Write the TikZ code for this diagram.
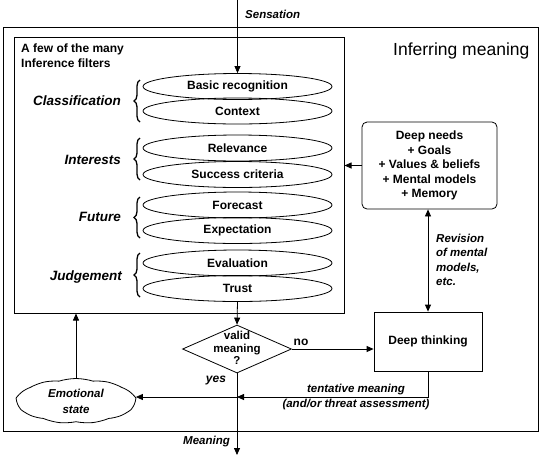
\documentclass[tikz,border=0pt]{standalone}
\usepackage{fontspec}
\setmainfont{Liberation Sans}
\usetikzlibrary{shapes.geometric,shapes.symbols,decorations.pathreplacing,arrows.meta}
\begin{document}
\begin{tikzpicture}[x=1pt,y=-1pt,
  txt/.style={font=\fontsize{12}{14.5}\selectfont\bfseries, inner sep=0pt, align=center},
  itx/.style={font=\fontsize{11.5}{14.5}\selectfont\bfseries\itshape, inner sep=0pt},
  grp/.style={font=\fontsize{13.5}{16}\selectfont\bfseries\itshape, inner sep=0pt, anchor=east},
  filt/.style={ellipse, draw, line width=0.8pt, minimum width=189pt, minimum height=26pt, inner sep=0pt, txt},
  frame/.style={draw, line width=1pt, inner sep=0pt},
  arr/.style={line width=0.8pt, -{Triangle[length=7pt,width=6pt]}},
  darr/.style={line width=0.8pt, {Triangle[length=7pt,width=6pt]}-{Triangle[length=7pt,width=6pt]}},
  brc/.style={decorate, decoration={brace, amplitude=6pt}, line width=1.3pt},
]
\useasboundingbox (0,0) rectangle (540,456);

% frames
\node[frame, minimum width=535pt, minimum height=404pt] (outer) at (270.5,229) {};
\node[frame, minimum width=330pt, minimum height=276pt] (inner) at (179,175) {};
\node[font=\fontsize{17.5}{19}\selectfont, inner sep=0pt, anchor=base west] (title) at (393,55) {Inferring meaning};
\node[txt, anchor=base west] (hdA) at (21,52) {A few of the many};
\node[txt, anchor=base west] (hdB) at (21,67) {Inference filters};

% filters
\node[filt] (f1) at (237.5,86.5) {Basic recognition};
\node[filt] (f2) at (237.5,111) {Context};
\node[filt] (f3) at (237.5,148) {Relevance};
\node[filt] (f4) at (237.5,174.5) {Success criteria};
\node[filt] (f5) at (237.5,205) {Forecast};
\node[filt] (f6) at (237.5,230.5) {Expectation};
\node[filt] (f7) at (237.5,263) {Evaluation};
\node[filt] (f8) at (237.5,288.5) {Trust};

% braces and group labels
\draw[brc] (140,122) -- (140,80);
\draw[brc] (140,180) -- (140,138);
\draw[brc] (140,238) -- (140,197);
\draw[brc] (140,297) -- (140,253);
\node[grp] (g1) at (121,101) {Classification};
\node[grp] (g2) at (121,160) {Interests};
\node[grp] (g3) at (121,217) {Future};
\node[grp] (g4) at (122,277) {Judgement};

% sensation input
\coordinate (in) at (237.5,0);
\node[itx, anchor=base west] (sens) at (245,18) {Sensation};
\draw[arr] (in) -- (f1.north);

% decision
\node[diamond, draw, line width=0.8pt, minimum width=109pt, minimum height=48pt, inner sep=0pt] (dia) at (237,349) {};
\node[txt, font=\fontsize{11.5}{12.5}\selectfont\bfseries] (diat) at (237,348) {valid\\meaning\\?};
\draw[arr] (f8.south) -- (dia.north);

% deep needs and deep thinking
\node[draw, line width=0.8pt, rounded corners=5pt, minimum width=135pt, minimum height=87pt, txt] (dn) at (429.5,165.5)
  {Deep needs\\+ Goals\\+ Values \& beliefs\\+ Mental models\\+ Memory};
\node[draw, line width=0.8pt, minimum width=108pt, minimum height=59pt, txt] (dt) at (428,341.5) {Deep thinking};
\draw[arr] (dn.west) -- (dn.west -| inner.east);
\draw[darr] (dn.south -| dt.north) -- (dt.north);
\node[itx, align=left, anchor=west] (rev) at (436,260) {Revision\\of mental\\models,\\etc.};

\draw[arr] (dia.east) -- (dia.east -| dt.west);
\node[txt] (no) at (301,342) {no};

% output
\coordinate (j) at (237,397);
\coordinate (out) at (237,455);
\draw[arr] (dia.south) -- (out);
\node[txt] (yes) at (216,381) {\itshape yes};
\node[itx] (mean) at (206.5,442) {Meaning};
\draw[arr] (dt.south) -- (dt.south |- j) -- (j);
\node[itx, align=center, font=\fontsize{11.5}{15}\selectfont\bfseries\itshape] (tent) at (356,397.5) {tentative meaning\\(and/or threat assessment)};

% emotional state
\node[cloud, draw, line width=0.8pt, cloud puffs=11, cloud puff arc=35, aspect=2.6, minimum width=118pt, minimum height=45pt, inner sep=0pt] (emo) at (76,401) {};
\node[itx, align=center, font=\fontsize{11.5}{16}\selectfont\bfseries\itshape] (emot) at (76,401) {Emotional\\state};
\draw[arr] (j) -- (j -| emo.east);
\draw[arr] (emo.north) -- (emo.north |- inner.south);
\end{tikzpicture}
\end{document}
